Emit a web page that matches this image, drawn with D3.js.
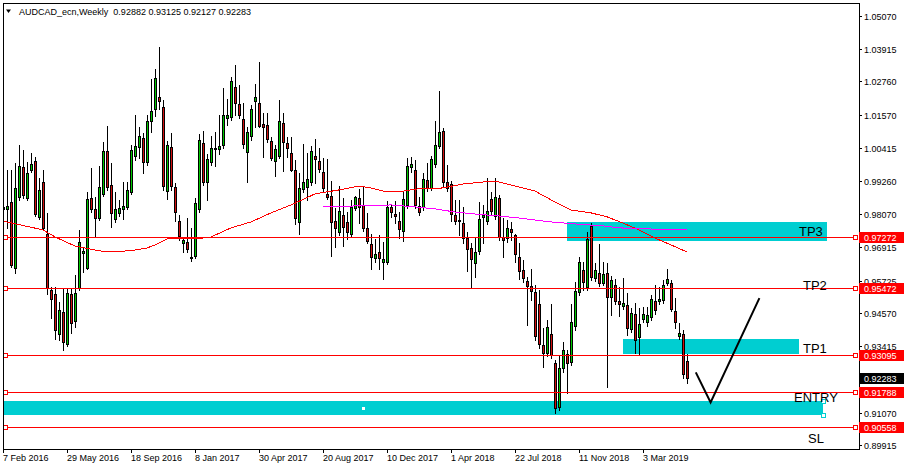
<!DOCTYPE html>
<html><head><meta charset="utf-8">
<script src="https://cdn.jsdelivr.net/npm/d3@7"></script>
<style>html,body{margin:0;padding:0;background:#fff;}svg{display:block;}</style>
</head><body><svg id="c" width="904" height="469"></svg>
<script>
const symbolTitle = "AUDCAD_ecn,Weekly";
const lastOHLC = [0.92882, 0.93125, 0.92127, 0.92283];
const opens = [0.9826,0.9826,0.9850,0.9618,0.9868,0.9974,0.9865,0.9963,0.9995,0.9798,
0.9921,0.9738,0.9540,0.9526,0.9385,0.9462,0.9349,0.9526,0.9430,0.9547,
0.9670,0.9618,0.9865,0.9826,0.9794,0.9879,1.0030,0.9910,0.9790,0.9812,
0.9826,0.9833,0.9886,1.0013,1.0045,1.0076,0.9992,1.0136,1.0179,1.0221,
1.0186,0.9889,1.0045,0.9903,0.9783,0.9706,0.9709,0.9656,0.9660,0.9826,
1.0059,0.9921,0.9992,1.0038,1.0038,1.0052,1.0147,1.0151,1.0256,1.0196,
1.0143,1.0027,1.0083,1.0207,1.0200,1.0126,1.0122,1.0066,0.9995,1.0013,
1.0129,1.0059,1.0023,0.9963,0.9780,0.9896,0.9903,0.9921,1.0013,0.9995,
0.9956,0.9879,0.9872,0.9783,0.9745,0.9805,0.9780,0.9738,0.9829,0.9865,
0.9840,0.9759,0.9702,0.9653,0.9674,0.9639,0.9639,0.9833,0.9808,0.9783,
0.9748,0.9840,0.9974,0.9963,0.9836,0.9833,0.9928,0.9900,0.9985,1.0048,
1.0101,0.9921,0.9914,0.9805,0.9787,0.9777,0.9723,0.9688,0.9635,0.9678,
0.9798,0.9783,0.9861,0.9801,0.9865,0.9727,0.9723,0.9755,0.9734,0.9656,
0.9610,0.9572,0.9554,0.9533,0.9490,0.9346,0.9317,0.9385,0.9282,0.9127,
0.9265,0.9314,0.9286,0.9413,0.9533,0.9610,0.9550,0.9766,0.9582,0.9600,
0.9565,0.9600,0.9515,0.9557,0.9501,0.9483,0.9487,0.9402,0.9455,0.9374,
0.9437,0.9427,0.9445,0.9501,0.9501,0.9505,0.9565,0.9565,0.9466,0.9377,
0.9385,0.92882];
const highs = [0.9932,0.9963,0.9963,0.9988,1.0052,1.0034,0.9992,1.0023,1.0009,0.9935,
0.9963,0.9812,0.9550,0.9550,0.9497,0.9547,0.9547,0.9547,0.9593,0.9752,
0.9692,0.9886,0.9971,0.9868,0.9978,1.0062,1.0119,0.9988,0.9886,0.9858,
0.9921,0.9921,1.0052,1.0158,1.0115,1.0094,1.0158,1.0285,1.0320,1.0398,
1.0211,1.0066,1.0094,0.9918,0.9805,0.9727,0.9794,0.9759,0.9865,1.0091,
1.0101,1.0020,1.0083,1.0098,1.0158,1.0253,1.0214,1.0292,1.0334,1.0263,
1.0200,1.0115,1.0193,1.0267,1.0345,1.0165,1.0165,1.0080,1.0052,1.0211,
1.0165,1.0080,1.0080,0.9999,0.9953,1.0055,1.0023,1.0048,1.0073,1.0041,
1.0006,1.0002,0.9925,0.9829,0.9907,0.9865,0.9815,0.9858,0.9872,0.9896,
0.9907,0.9812,0.9738,0.9720,0.9734,0.9709,0.9854,0.9843,0.9854,0.9815,
0.9886,1.0006,1.0009,0.9999,0.9868,0.9953,0.9988,1.0013,1.0136,1.0242,
1.0112,0.9981,0.9925,0.9858,0.9858,0.9833,0.9745,0.9706,0.9727,0.9850,
0.9840,0.9935,0.9886,0.9935,0.9875,0.9794,0.9787,0.9780,0.9738,0.9706,
0.9646,0.9586,0.9614,0.9557,0.9540,0.9406,0.9434,0.9490,0.9293,0.9310,
0.9356,0.9328,0.9490,0.9568,0.9656,0.9639,0.9745,0.9776,0.9635,0.9702,
0.9639,0.9635,0.9589,0.9579,0.9550,0.9582,0.9529,0.9476,0.9494,0.9476,
0.9480,0.9480,0.9522,0.9557,0.9550,0.9575,0.9614,0.9575,0.9512,0.9423,
0.9399,0.93125];
const lows = [0.9709,0.9759,0.9621,0.9600,0.9858,0.9865,0.9858,0.9956,0.9801,0.9790,
0.9752,0.9526,0.9441,0.9367,0.9363,0.9328,0.9342,0.9388,0.9409,0.9540,
0.9603,0.9614,0.9815,0.9730,0.9787,0.9872,0.9893,0.9762,0.9780,0.9801,
0.9790,0.9826,0.9879,0.9999,1.0006,0.9953,0.9981,1.0098,1.0154,1.0179,
0.9893,0.9861,0.9893,0.9783,0.9716,0.9674,0.9674,0.9642,0.9653,0.9815,
0.9910,0.9858,0.9981,0.9978,1.0020,1.0041,1.0122,1.0140,1.0158,1.0147,
1.0041,0.9921,1.0069,1.0115,1.0115,1.0009,1.0062,0.9999,0.9942,1.0006,
0.9960,1.0009,0.9960,0.9773,0.9738,0.9886,0.9858,0.9910,0.9918,0.9956,
0.9886,0.9861,0.9660,0.9692,0.9734,0.9695,0.9720,0.9727,0.9822,0.9777,
0.9748,0.9706,0.9614,0.9639,0.9614,0.9579,0.9632,0.9798,0.9776,0.9723,
0.9713,0.9829,0.9956,0.9829,0.9805,0.9822,0.9889,0.9893,0.9974,1.0041,
0.9907,0.9889,0.9783,0.9773,0.9734,0.9706,0.9607,0.9550,0.9586,0.9667,
0.9706,0.9773,0.9808,0.9790,0.9716,0.9656,0.9709,0.9716,0.9639,0.9579,
0.9568,0.9416,0.9505,0.9363,0.9335,0.9268,0.9307,0.9300,0.9106,0.9116,
0.9250,0.9176,0.9275,0.9399,0.9522,0.9540,0.9540,0.9575,0.9572,0.9554,
0.9557,0.9197,0.9452,0.9490,0.9448,0.9473,0.9381,0.9392,0.9317,0.9314,
0.9427,0.9413,0.9434,0.9455,0.9490,0.9494,0.9557,0.9466,0.9406,0.9367,
0.9229,0.92127];
const closes = [0.9833,0.9836,0.9628,0.9900,0.9978,0.9875,0.9953,0.9985,0.9808,0.9893,
0.9759,0.9547,0.9508,0.9399,0.9469,0.9356,0.9529,0.9423,0.9529,0.9709,
0.9678,0.9861,0.9826,0.9794,0.9903,1.0030,0.9903,0.9812,0.9826,0.9829,
0.9836,0.9893,1.0034,1.0048,1.0083,0.9992,1.0136,1.0172,1.0288,1.0207,
0.9907,1.0052,0.9907,0.9815,0.9730,0.9716,0.9685,0.9653,0.9847,1.0069,
0.9921,1.0002,1.0041,1.0041,1.0048,1.0158,1.0158,1.0278,1.0200,1.0158,
1.0055,1.0098,1.0179,1.0221,1.0119,1.0115,1.0073,1.0006,1.0038,1.0136,
1.0062,1.0041,0.9963,0.9794,0.9900,0.9921,0.9932,1.0030,1.0002,0.9967,
0.9900,0.9868,0.9780,0.9759,0.9819,0.9762,0.9745,0.9833,0.9868,0.9833,
0.9759,0.9713,0.9656,0.9667,0.9653,0.9649,0.9833,0.9815,0.9801,0.9755,
0.9861,0.9978,0.9985,0.9840,0.9815,0.9932,0.9900,1.0002,1.0052,1.0098,
0.9921,0.9900,0.9808,0.9783,0.9783,0.9723,0.9685,0.9649,0.9674,0.9790,
0.9805,0.9819,0.9819,0.9868,0.9727,0.9716,0.9759,0.9745,0.9667,0.9607,
0.9582,0.9554,0.9536,0.9377,0.9349,0.9317,0.9409,0.9310,0.9123,0.9265,
0.9328,0.9282,0.9427,0.9536,0.9639,0.9568,0.9720,0.9586,0.9610,0.9565,
0.9596,0.9515,0.9575,0.9501,0.9490,0.9494,0.9406,0.9459,0.9363,0.9420,
0.9455,0.9452,0.9508,0.9469,0.9508,0.9557,0.9579,0.9473,0.9427,0.9388,
0.9243,0.92283];

// red moving average, read at these bars
const maBars = [0,10,13,18,24,28,33,36,38,41,45,48,52,57,62,67,72,78,84,89,92,95,99,103,110,115,120,124,129,133,137,142,147,151,155,159,163,167,171];
const maValues = [0.9783,0.9752,0.9727,0.9695,0.9678,0.9674,0.9681,0.9688,0.9699,0.9720,0.9723,0.9720,0.9727,0.9759,0.9780,0.9812,0.9840,0.9879,0.9893,0.9907,0.9900,0.9889,0.9886,0.9896,0.9900,0.9914,0.9921,0.9921,0.9903,0.9889,0.9858,0.9822,0.9812,0.9798,0.9776,0.9752,0.9723,0.9699,0.9674];
// magenta moving average
const ma2Bars = [80,87,97,103,108,113,118,124,129,137,143,150,154,162,171];
const ma2Values = [0.9833,0.9836,0.9840,0.9833,0.9826,0.9815,0.9808,0.9801,0.9794,0.9780,0.9773,0.9766,0.9759,0.9755,0.9752];

const dateTickBars = [0,16,32,48,64,80,96,112,128,144,160];
const dateTickLabels = ["7 Feb 2016","29 May 2016","18 Sep 2016","8 Jan 2017","30 Apr 2017","20 Aug 2017","10 Dec 2017","1 Apr 2018","22 Jul 2018","11 Nov 2018","3 Mar 2019"];
const priceTicks = [1.05070,1.03915,1.02760,1.01570,1.00415,0.99260,0.98070,0.96915,0.95725,0.94570,0.93415,0.91070,0.89915];

const levelPrices = [0.97272,0.95472,0.93095,0.91788,0.90558];
const levelNames = ["TP3","TP2","TP1","ENTRY","SL"];
const levelLabelBars = [199,200,200,197.75,201.25];
const levelLabelPrices = [0.97304,0.95398,0.93174,0.91445,0.89996];

const zoneFromBars = [141,155,-2];
const zoneToBars = [206,199,205];
const zoneHighs = [0.9780,0.93668,0.9148];
const zoneLows = [0.9713,0.93139,0.9099];

const pathBars = [173.2,176.9,189.1];
const pathPrices = [0.9249,0.9143,0.9511];

// ---------------------------------------------------------------
const svg = d3.select("#c");
const L = 3, R = 859, T = 3, B = 449;
const x = d3.scaleLinear().domain([0,171]).range([3,687]);
const y = d3.scaleLinear().domain([0.89915,1.05070]).range([445.3,16]);
const FONT = "'Liberation Sans', Arial, sans-serif";
const BULL = "#00c800", BEAR = "#d01010", CYAN = "#00ced1";

svg.append("rect").attr("width",904).attr("height",469).attr("fill","#fff");
svg.append("defs").append("clipPath").attr("id","plot")
  .append("rect").attr("x",L).attr("y",T).attr("width",R-L).attr("height",B-T);
const plot = svg.append("g").attr("clip-path","url(#plot)").attr("shape-rendering","crispEdges");

// zones (background)
zoneFromBars.forEach((f,k)=>{
  const y0 = Math.round(y(zoneHighs[k])), y1 = Math.round(y(zoneLows[k]));
  plot.append("rect").attr("x",Math.round(x(f))).attr("y",y0)
    .attr("width",Math.round(x(zoneToBars[k]))-Math.round(x(f))).attr("height",y1-y0)
    .attr("fill",CYAN);
});
// white centre marker & handles of lower zone
plot.append("rect").attr("x",Math.round(x(90))-1).attr("y",Math.round(y(0.91233))-1)
  .attr("width",3).attr("height",3).attr("fill","#fff");

// candles
const bars = d3.range(opens.length).map(i=>({i,o:opens[i],h:highs[i],l:lows[i],c:closes[i]}));
const cg = plot.append("g");
bars.forEach(d=>{
  const cx = Math.round(x(d.i));
  const yh = Math.round(y(d.h)), yl = Math.round(y(d.l));
  const yo = Math.round(y(d.o)), yc = Math.round(y(d.c));
  cg.append("line").attr("x1",cx+0.5).attr("x2",cx+0.5).attr("y1",yh).attr("y2",yl+1)
    .attr("stroke","#000").attr("stroke-width",1);
  const t = Math.min(yo,yc), b = Math.max(yo,yc);
  cg.append("rect").attr("x",cx-0.5).attr("y",t+0.5).attr("width",2).attr("height",Math.max(b-t,1))
    .attr("fill",d.c>=d.o?BULL:BEAR).attr("stroke","#000").attr("stroke-width",1);
});

// moving averages
const line = d3.line().x(d=>x(d[0])).y(d=>y(d[1]));
plot.append("path").datum(maBars.map((b,k)=>[b,maValues[k]]))
  .attr("d",line).attr("fill","none").attr("stroke","#ff0000").attr("stroke-width",1);
plot.append("path").datum(ma2Bars.map((b,k)=>[b,ma2Values[k]]))
  .attr("d",line).attr("fill","none").attr("stroke","#ff00ff").attr("stroke-width",1);

// horizontal levels
levelPrices.forEach((p,k)=>{
  const yy = Math.round(y(p));
  plot.append("line").attr("x1",L).attr("x2",856).attr("y1",yy+0.5).attr("y2",yy+0.5)
    .attr("stroke","#ff0000").attr("stroke-width",1);
  [3.5,853.5].forEach(sx=>{
    plot.append("rect").attr("x",sx).attr("y",yy-1.5).attr("width",4).attr("height",4)
      .attr("fill","#fff").attr("stroke","#ff0000").attr("stroke-width",1);
  });
  svg.append("text").attr("x",x(levelLabelBars[k])).attr("y",y(levelLabelPrices[k]))
    .attr("font-family",FONT).attr("font-size",13).attr("fill","#000").text(levelNames[k]);
});

// zone handles
[zoneHighs[2],zoneLows[2]].forEach(p=>{
  plot.append("rect").attr("x",Math.round(x(zoneToBars[2]))-1.5).attr("y",Math.round(y(p))-1.5)
    .attr("width",4).attr("height",4).attr("fill","#fff").attr("stroke",CYAN).attr("stroke-width",1);
});

// hand drawn path
svg.append("path").datum(pathBars.map((b,k)=>[b,pathPrices[k]]))
  .attr("d",line).attr("fill","none").attr("stroke","#000").attr("stroke-width",2)
  .attr("stroke-linejoin","miter");

// frame
const fr = svg.append("g").attr("shape-rendering","crispEdges").attr("stroke","#000");
fr.append("rect").attr("x",L+0.5).attr("y",T+0.5).attr("width",R-L).attr("height",B-T)
  .attr("fill","none");

// price axis
priceTicks.forEach(p=>{
  const yy = Math.round(y(p));
  fr.append("line").attr("x1",R).attr("x2",R+3).attr("y1",yy+0.5).attr("y2",yy+0.5);
  svg.append("text").attr("x",864).attr("y",yy+3.5).attr("font-family",FONT).attr("font-size",9)
    .attr("fill","#000").text(d3.format(".5f")(p));
});
// price boxes
const boxes = levelPrices.map(p=>({p,fill:"#ff0000"})).concat([{p:lastOHLC[3],fill:"#000"}]);
boxes.forEach(bx=>{
  const yy = Math.round(y(bx.p));
  svg.append("rect").attr("x",R).attr("y",yy-5).attr("width",904-R).attr("height",11).attr("fill",bx.fill);
  svg.append("text").attr("x",864).attr("y",yy+3.5).attr("font-family",FONT).attr("font-size",9)
    .attr("fill","#fff").text(d3.format(".5f")(bx.p));
});

// time axis
dateTickBars.forEach((b,k)=>{
  const xx = Math.round(x(b));
  fr.append("line").attr("x1",xx+0.5).attr("x2",xx+0.5).attr("y1",B).attr("y2",B+4);
  svg.append("text").attr("x",xx).attr("y",461).attr("font-family",FONT).attr("font-size",9)
    .attr("fill","#000").text(dateTickLabels[k]);
});

// header
svg.append("path").attr("d","M6,9.5 L11,9.5 L8.5,13 Z").attr("fill","#000");
svg.append("text").attr("x",19).attr("y",14.5).attr("font-family",FONT).attr("font-size",9)
  .attr("fill","#000").attr("xml:space","preserve")
  .text(symbolTitle + "  " + lastOHLC.map(d3.format(".5f")).join(" "));
</script></body></html>
